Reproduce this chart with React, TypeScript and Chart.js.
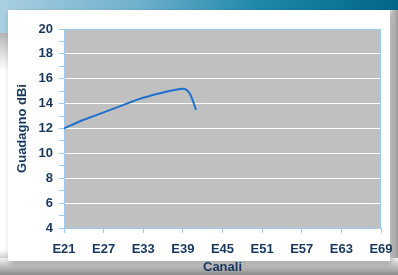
import React, { useEffect, useRef } from "react";
import { Chart, registerables } from "chart.js";
Chart.register(...registerables);

const channels = [21, 22, 23, 24, 25, 26, 27, 28, 29, 30, 31, 32, 33, 34, 35, 36, 37, 38, 39, 40, 41];
const gain = [12.0, 12.25, 12.48, 12.7, 12.9, 13.1, 13.3, 13.5, 13.7, 13.9, 14.1, 14.3, 14.47, 14.62, 14.77, 14.9, 15.02, 15.12, 15.2, 14.85, 13.5];
const xTickValues = [21, 27, 33, 39, 45, 51, 57, 63, 69];
const yMin = 4;
const yMax = 20;
const xTitle = "Canali";
const yTitle = "Guadagno dBi";

const NAVY = "#17375e";
const AXIS = "#9ccaf2";
const FONT = "'Liberation Sans', Arial, sans-serif";

const plotBg = {
  id: "plotBg",
  beforeDraw(chart: any) {
    const { ctx, chartArea: a } = chart;
    ctx.save();
    ctx.fillStyle = "#c0c0c0";
    ctx.fillRect(a.left, a.top, a.right - a.left, a.bottom - a.top);
    ctx.restore();
  },
  beforeDatasetsDraw(chart: any) {
    const { ctx, chartArea: a } = chart;
    ctx.save();
    ctx.strokeStyle = AXIS;
    ctx.lineWidth = 1;
    ctx.strokeRect(Math.round(a.left) + 0.5, Math.round(a.top) + 0.5, Math.round(a.right - a.left) - 1, Math.round(a.bottom - a.top));
    ctx.restore();
  },
};

export default function App() {
  const ref = useRef<HTMLCanvasElement>(null);
  useEffect(() => {
    const chart = new Chart(ref.current!, {
      type: "line",
      data: {
        datasets: [
          {
            data: channels.map((c, i) => ({ x: c, y: gain[i] })),
            borderColor: "#1f6fd0",
            borderWidth: 2,
            pointRadius: 0,
            cubicInterpolationMode: "monotone",
            fill: false,
          },
        ],
      },
      options: {
        animation: false,
        responsive: false,
        plugins: { legend: { display: false }, tooltip: { enabled: false } },
        layout: { padding: { top: 29, right: 17, bottom: 0, left: 0 } },
        scales: {
          x: {
            type: "linear",
            min: 21,
            max: 69,
            afterFit: (s: any) => {
              s.height = 47;
              s.paddingLeft = 0;
              s.paddingRight = 0;
            },
            afterBuildTicks: (s: any) => { s.ticks = xTickValues.map((v) => ({ value: v })); },
            grid: { drawOnChartArea: false, tickLength: 5, color: AXIS, tickColor: AXIS },
            border: { color: AXIS },
            ticks: {
              autoSkip: false,
              maxRotation: 0,
              padding: 9,
              color: NAVY,
              font: { family: FONT, size: 13, weight: "bold" },
              callback: (v: any) => "E" + v,
            },
            title: {
              display: true,
              text: xTitle,
              color: NAVY,
              font: { family: FONT, size: 13, weight: "bold" },
              padding: { top: 0, bottom: 0 },
            },
          },
          y: {
            min: yMin,
            max: yMax,
            afterFit: (s: any) => {
              s.width = 64;
              s.paddingTop = 0;
              s.paddingBottom = 0;
            },
            grid: {
              tickLength: 5,
              tickColor: AXIS,
              color: (c: any) => (c.tick && c.tick.value % 2 === 0 ? "#ffffff" : "rgba(0,0,0,0)"),
            },
            border: { color: AXIS },
            ticks: {
              stepSize: 1,
              autoSkip: false,
              padding: 6,
              color: NAVY,
              font: { family: FONT, size: 13, weight: "bold" },
              callback: (v: any) => (v % 2 === 0 ? String(v) : ""),
            },
            title: {
              display: true,
              text: yTitle,
              color: NAVY,
              font: { family: FONT, size: 13, weight: "bold" },
              padding: { top: 15, bottom: 0 },
            },
          },
        },
      },
      plugins: [plotBg],
    } as any);
    return () => chart.destroy();
  }, []);

  return (
    <div style={{ position: "fixed", left: 0, top: 0, width: 398, height: 275, overflow: "hidden", background: "linear-gradient(to bottom, #b4b4b4 33px, #ffffff 70px, #ffffff 250px, #6e6e6e 275px)" }}>
      <div style={{ position: "absolute", left: 0, top: 0, width: 398, height: 33, background: "linear-gradient(to right, #a9cfe2 0%, #6fb0cc 35%, #1e88a8 65%, #006688 100%)" }} />
      <div style={{ position: "absolute", left: 388, top: 10, width: 10, height: 265, background: "linear-gradient(to right, #f2f2f2, #9a9a9a)" }} />
      <div style={{ position: "absolute", left: 0, top: 258, width: 398, height: 17, background: "linear-gradient(to bottom, #f4f4f4, #8c8c8c)" }} />
      <div style={{ position: "absolute", left: 8, top: 10, width: 382, height: 251, background: "#ffffff", boxShadow: "2px 3px 6px rgba(0,0,0,0.25)" }} />
      <canvas ref={ref} width={398} height={275} style={{ position: "absolute", left: 0, top: 0 }} />
    </div>
  );
}
